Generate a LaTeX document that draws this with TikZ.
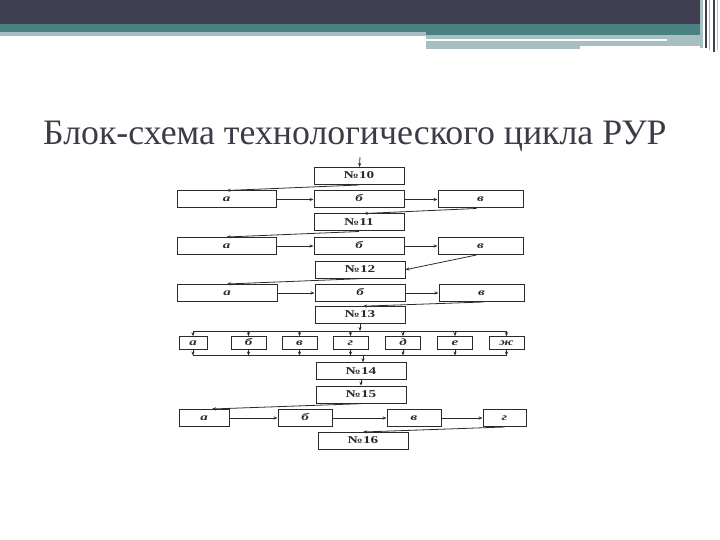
\documentclass[tikz,border=0pt]{standalone}
\usepackage{fontspec}
\setmainfont{Liberation Serif}
\newfontfamily\lblfont[FakeStretch=1.5]{Liberation Serif}
\newfontfamily\numfont[FakeStretch=1.45]{Liberation Serif}
\usetikzlibrary{arrows.meta}
\definecolor{hdrdark}{HTML}{3F3F52}
\definecolor{hdrteal}{HTML}{4B8083}
\definecolor{hdrlight}{HTML}{A7BEC3}
\definecolor{titlecol}{HTML}{3C3C48}
\definecolor{ink}{HTML}{2A2A2A}
\tikzset{
  box/.style={draw=ink, line width=1pt, minimum height=17pt, inner sep=0pt, text height=6pt, text depth=1.5pt, font=\lblfont\fontsize{10}{10}\selectfont\bfseries\itshape, text=ink},
  numbox/.style={box, minimum width=90pt, text height=7pt, font=\numfont\fontsize{10.5}{10.5}\selectfont\bfseries},
  sbox/.style={box, minimum height=12.6pt, minimum width=35pt},
  conn/.style={draw=ink, line width=0.8pt},
  arr/.style={conn, -{Stealth[length=4pt,width=3.2pt]}}
}
\begin{document}
\begin{tikzpicture}[x=1pt,y=-1pt]
\useasboundingbox (0,0) rectangle (720,540);
% header
\fill[hdrdark] (0,0) rectangle (700,24);
\fill[hdrteal] (0,24) rectangle (700,32);
\fill[hdrteal] (426,32) rectangle (700,35);
\fill[hdrlight] (0,32) rectangle (426,36);
\fill[hdrlight] (426,35) rectangle (700,39);
\fill[hdrlight] (667,39) rectangle (700,41);
\fill[hdrlight] (426,41) rectangle (700,46);
\fill[hdrlight] (426,46) rectangle (580,49);
\fill[hdrlight] (700,0) rectangle (703,48);
\fill[hdrdark] (705,0) rectangle (706.5,48);
\fill[gray!60] (709,0) rectangle (710,50);
\fill[hdrdark] (713,0) rectangle (714.5,52);
\fill[gray!50] (717,0) rectangle (718,50);
% title
\node[anchor=base west, inner sep=0pt, text=titlecol, font=\fontsize{35.8}{36}\selectfont] (title) at (43,145) {Блок-схема технологического цикла РУР};
% chain
\coordinate (in) at (360,157);
\node[numbox] (n10) at (359,176) {№10};
\node[box, minimum width=99pt] (a1) at (226.5,199.5) {а};
\node[box, minimum width=90pt] (b1) at (359,199.5) {б};
\node[box, minimum width=85pt] (v1) at (480.5,199.5) {в};
\node[numbox] (n11) at (359,222.5) {№11};
\node[box, minimum width=99pt] (a2) at (226.5,246) {а};
\node[box, minimum width=90pt] (b2) at (359,246) {б};
\node[box, minimum width=85pt] (v2) at (480.5,246) {в};
\node[numbox] (n12) at (360,269.7) {№12};
\node[box, minimum width=100pt] (a3) at (227,293) {а};
\node[box, minimum width=90pt] (b3) at (360,293) {б};
\node[box, minimum width=85pt] (v3) at (481.5,293) {в};
\node[numbox] (n13) at (360,315.2) {№13};
\node[sbox, minimum width=28pt] (r1) at (193,343) {а};
\node[sbox] (r2) at (248.5,343) {б};
\node[sbox] (r3) at (299.5,343) {в};
\node[sbox] (r4) at (350.5,343) {г};
\node[sbox] (r5) at (403,343) {д};
\node[sbox] (r6) at (455,343) {е};
\node[sbox] (r7) at (506.5,343) {ж};
\node[numbox] (n14) at (361,371.3) {№14};
\node[numbox] (n15) at (361,394.7) {№15};
\node[box, minimum width=50pt] (a5) at (204,418) {а};
\node[box, minimum width=54pt] (b5) at (305,418) {б};
\node[box, minimum width=54pt] (v5) at (414,418) {в};
\node[box, minimum width=43pt] (g5) at (504.5,418) {г};
\node[numbox] (n16) at (363,441) {№16};
\coordinate (busA) at (360,331);
\coordinate (busB) at (363,355.5);
% connectors
\draw[arr] (in) -- (n10);
\draw[arr] (n10.south) -- (a1.north);
\draw[arr] (a1) -- (b1);
\draw[arr] (b1) -- (v1);
\draw[arr] ([xshift=-4pt]v1.south) -- ([xshift=5pt]n11.north);
\draw[arr] (n11.south) -- (a2.north);
\draw[arr] (a2) -- (b2);
\draw[arr] (b2) -- (v2);
\draw[arr] ([xshift=-4pt]v2.south) -- (n12.east);
\draw[arr] (n12.south) -- (a3.north);
\draw[arr] (a3) -- (b3);
\draw[arr] (b3) -- (v3);
\draw[arr] ([xshift=2pt]v3.south) -- ([xshift=3pt]n13.north);
\draw[arr] (n13.south) -- (busA);
\draw[conn] (r1.north |- busA) -- (r7.north |- busA);
\foreach \r in {r1,r2,r3,r4,r5,r6,r7}{
  \draw[arr] (\r.north |- busA) -- (\r.north);
  \draw[arr] (\r.south) -- (\r.south |- busB);
}
\draw[conn] (r1.south |- busB) -- (r7.south |- busB);
\draw[arr] (busB) -- (busB |- n14.north);
\draw[arr] (n14.south) -- (n15.north);
\draw[arr] (n15.south) -- ([xshift=8pt]a5.north);
\draw[arr] (a5) -- (b5);
\draw[arr] (b5) -- (v5);
\draw[arr] (v5) -- (g5);
\draw[arr] (g5.south) -- (n16.north);
\end{tikzpicture}
\end{document}
